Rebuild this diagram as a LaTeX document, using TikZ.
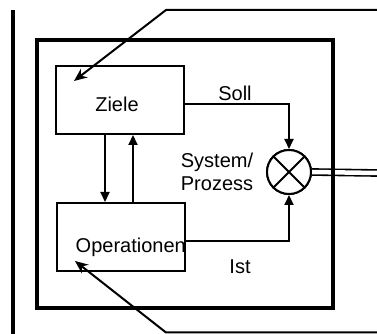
\documentclass[tikz,border=0pt]{standalone}
\usepackage{fontspec}
\setmainfont{Liberation Sans}
\usetikzlibrary{arrows.meta, positioning, calc}

\begin{document}
\begin{tikzpicture}[x=1pt, y=1pt,
        block/.style={
            rectangle,
            draw,
            line width=2pt,
            minimum width=128pt,
            minimum height=68pt,
            inner sep=0pt
        },
        lbl/.style={
            inner sep=0pt,
            font=\fontsize{20}{23}\selectfont
        },
        flow/.style={
            -{Triangle[length=10pt, width=9pt]},
            line width=2pt
        },
        feed/.style={
            -{Stealth[length=13pt, width=11pt]},
            line width=2pt
        },
        frame/.style={
            line width=4.2pt
        }
    ]
        \useasboundingbox (0,0) rectangle (377,334);

        % free ends of the outer connectors
        \coordinate (topR) at (377,324);
        \coordinate (topK) at (166,324);
        \coordinate (botR) at (377,1.5);
        \coordinate (botK) at (166,1.5);
        \coordinate (zTip) at (74,253);
        \coordinate (oTip) at (75,73);
        \coordinate (out) at (377,161);

        % nodes
        \node[block] (ziele) at (120,234) {};
        \node[lbl] (zlbl) at (117,230) {Ziele};
        \node[block] (oper) at (121,97) {};
        \node[lbl, anchor=east] (olbl) at ([yshift=-10pt]oper.east) {Operationen};
        \node[circle, draw, line width=2pt, minimum size=44pt, inner sep=0pt] (mix) at (289,162) {};

        \node[lbl] (soll) at (235,241) {Soll};
        \node[lbl] (ist) at (240,67) {Ist};
        \node[lbl, align=left] (sys) at (217,162) {System/\\Prozess};

        % output to the right
        \draw[line width=1.6pt, double distance=4.5pt] (mix.east) -- (out);
        \node[circle, draw, fill=white, line width=2pt, minimum size=44pt, inner sep=0pt] at (mix) {};
        \draw[line width=2pt] (mix.north west) -- (mix.south east);
        \draw[line width=2pt] (mix.north east) -- (mix.south west);

        % outer frame and left border
        \draw[frame] (37,26) rectangle (333,294);
        \draw[frame] (13,324) -- (13,0);

        % connectors
        \draw[flow] ([xshift=-15pt]ziele.south) -- ([xshift=-15pt]ziele.south |- oper.north);
        \draw[flow] ([xshift=13pt]ziele.south |- oper.north) -- ([xshift=13pt]ziele.south);
        \draw[flow] ([yshift=-4pt]ziele.east) -| (mix.north);
        \draw[flow] ([yshift=-4pt]oper.east) -| (mix.south);

        \draw[feed] (topR) -- (topK) -- (zTip);
        \draw[feed] (botR) -- (botK) -- (oTip);
    \end{tikzpicture}
\end{document}
